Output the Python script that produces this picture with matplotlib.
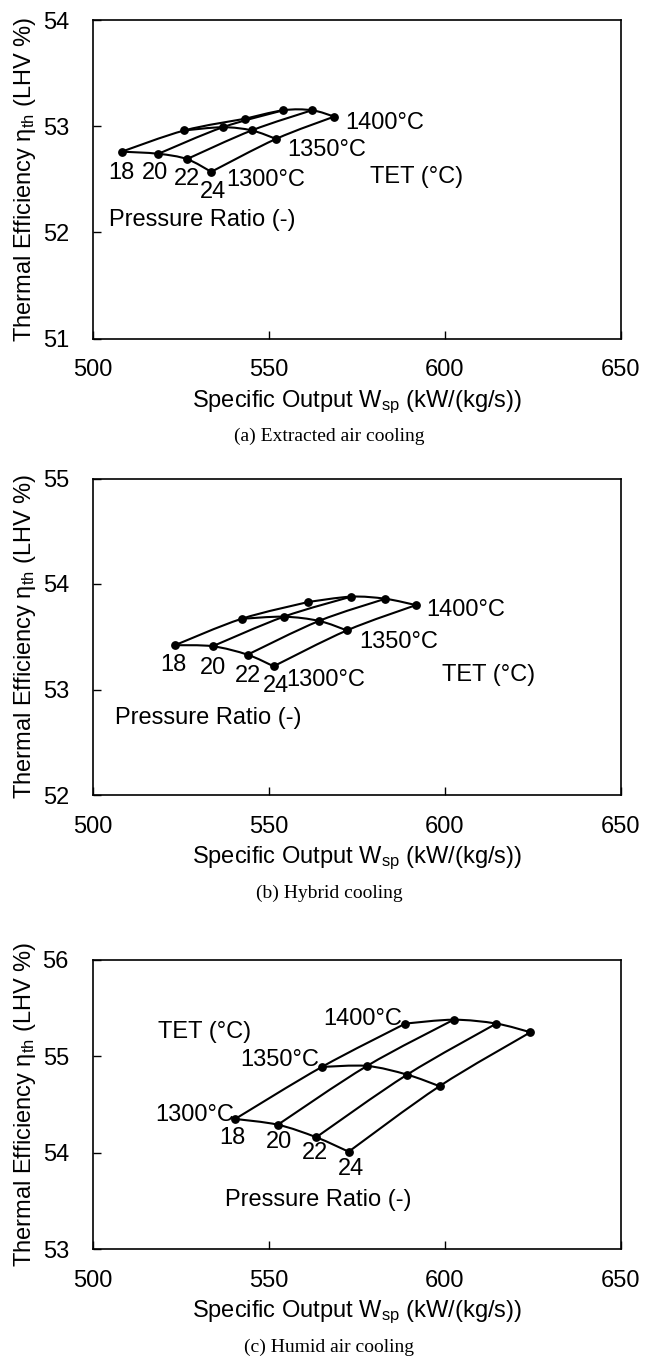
import numpy as np
import matplotlib
matplotlib.use("Agg")
import matplotlib.pyplot as plt
from matplotlib.path import Path
from matplotlib.patches import PathPatch

plt.rcParams['font.family'] = ['Liberation Sans', 'DejaVu Sans']
plt.rcParams['mathtext.fontset'] = 'custom'
plt.rcParams['mathtext.rm'] = 'Liberation Sans'
plt.rcParams['mathtext.it'] = 'Liberation Sans:italic'

# pressure ratios and turbine entry temperatures
pr = [18, 20, 22, 24]
tet = [1300, 1350, 1400]

# (a) extracted air cooling: rows = TET, cols = pressure ratio
a_wsp = [[508.3, 518.7, 526.8, 533.7],
         [526.1, 537.0, 545.2, 552.1],
         [543.3, 554.2, 562.3, 568.6]]
a_eta = [[52.76, 52.74, 52.69, 52.57],
         [52.96, 52.99, 52.96, 52.88],
         [53.07, 53.15, 53.15, 53.09]]

# (b) hybrid cooling
b_wsp = [[523.4, 534.1, 544.0, 551.4],
         [542.3, 554.3, 564.3, 572.2],
         [561.3, 573.4, 583.1, 591.8]]
b_eta = [[53.42, 53.41, 53.33, 53.22],
         [53.67, 53.69, 53.65, 53.56],
         [53.83, 53.88, 53.86, 53.80]]

# (c) humid air cooling
c_wsp = [[540.5, 552.6, 563.5, 572.7],
         [565.1, 577.9, 589.3, 598.5],
         [588.8, 602.5, 614.6, 624.3]]
c_eta = [[54.35, 54.29, 54.16, 54.01],
         [54.89, 54.90, 54.81, 54.69],
         [55.34, 55.38, 55.34, 55.25]]

captions = ["(a) Extracted air cooling", "(b) Hybrid cooling", "(c) Humid air cooling"]
ylims = [(51, 54), (52, 55), (53, 56)]

W, H = 659, 1363
fig = plt.figure(figsize=(W / 100, H / 100), dpi=100)


def smooth(ax, xs, ys):
    # excel style smoothed line (catmull-rom as bezier)
    pts = np.column_stack([xs, ys])
    n = len(pts)
    verts = [pts[0]]
    codes = [Path.MOVETO]
    for i in range(n - 1):
        p0 = pts[i - 1] if i > 0 else pts[i]
        p1, p2 = pts[i], pts[i + 1]
        p3 = pts[i + 2] if i + 2 < n else pts[i + 1]
        verts += [p1 + (p2 - p0) / 6, p2 - (p3 - p1) / 6, p2]
        codes += [Path.CURVE4] * 3
    ax.add_patch(PathPatch(Path(verts, codes), fill=False, lw=1.5, ec='black', zorder=2))


def panel(top_px, bot_px, wsp, eta, ylim, cap):
    ax = fig.add_axes([92.5 / W, 1 - bot_px / H, 528.5 / W, (bot_px - top_px) / H])
    wsp = np.array(wsp)
    eta = np.array(eta)
    for i in range(3):
        smooth(ax, wsp[i], eta[i])
    for j in range(4):
        smooth(ax, wsp[:, j], eta[:, j])
    ax.plot(wsp.ravel(), eta.ravel(), 'o', color='black', ms=5.3, zorder=3)
    ax.set_xlim(500, 650)
    ax.set_ylim(*ylim)
    ax.set_xticks([500, 550, 600, 650])
    ax.set_yticks(np.arange(ylim[0], ylim[1] + 1, 1))
    ax.tick_params(direction='in', length=6, width=1, labelsize=17)
    ax.tick_params(axis='x', pad=15)
    ax.tick_params(axis='y', pad=17)
    for s in ax.spines.values():
        s.set_linewidth(1.2)
    ax.set_xlabel('Specific Output W$_{\\mathrm{sp}}$ (kW/(kg/s))', fontsize=17, labelpad=5)
    ax.set_ylabel('Thermal Efficiency η$_{\\mathrm{th}}$ (LHV %)', fontsize=17, labelpad=3)
    fig.text(0.5, 1 - (bot_px + 98) / H, cap, ha='center', va='center',
             fontsize=14, family='Liberation Serif')
    return ax


fs = 17
ax = panel(20, 338.5, a_wsp, a_eta, ylims[0], captions[0])
ax.text(571.7, 53.03, '1400°C', fontsize=fs, va='center')
ax.text(555.2, 52.78, '1350°C', fontsize=fs, va='center')
ax.text(538.1, 52.49, '1300°C', fontsize=fs, va='center')
ax.text(578.8, 52.52, 'TET (°C)', fontsize=fs, va='center')
for s, x, y in zip(pr, [508.2, 517.8, 526.8, 534.2], [52.56, 52.56, 52.50, 52.38]):
    ax.text(x, y, str(s), fontsize=fs, ha='center', va='center')
ax.text(504.8, 52.12, 'Pressure Ratio (-)', fontsize=fs, va='center')

ax = panel(478.5, 795, b_wsp, b_eta, ylims[1], captions[1])
ax.text(594.7, 53.75, '1400°C', fontsize=fs, va='center')
ax.text(575.8, 53.45, '1350°C', fontsize=fs, va='center')
ax.text(555.0, 53.09, '1300°C', fontsize=fs, va='center')
ax.text(599.3, 53.14, 'TET (°C)', fontsize=fs, va='center')
for s, x, y in zip(pr, [523.0, 534.1, 544.1, 552.0], [53.23, 53.20, 53.13, 53.03]):
    ax.text(x, y, str(s), fontsize=fs, ha='center', va='center')
ax.text(506.5, 52.73, 'Pressure Ratio (-)', fontsize=fs, va='center')

ax = panel(960, 1249, c_wsp, c_eta, ylims[2], captions[2])
ax.text(587.9, 55.385, '1400°C', fontsize=fs, ha='right', va='center')
ax.text(564.2, 54.96, '1350°C', fontsize=fs, ha='right', va='center')
ax.text(540.2, 54.39, '1300°C', fontsize=fs, ha='right', va='center')
ax.text(518.7, 55.25, 'TET (°C)', fontsize=fs, va='center')
for s, x, y in zip(pr, [539.8, 552.8, 563.2, 573.4], [54.15, 54.11, 54.0, 53.83]):
    ax.text(x, y, str(s), fontsize=fs, ha='center', va='center')
ax.text(537.7, 53.51, 'Pressure Ratio (-)', fontsize=fs, va='center')

fig.savefig('out.png', dpi=100)
